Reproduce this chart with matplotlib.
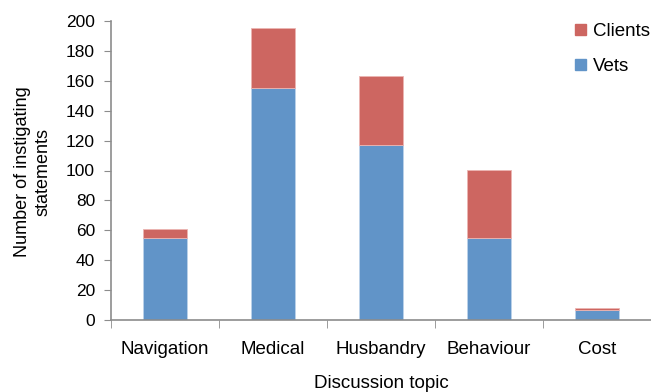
import matplotlib
matplotlib.use("Agg")
import matplotlib.pyplot as plt
import numpy as np
from matplotlib.patches import Patch

categories = ["Navigation", "Medical", "Husbandry", "Behaviour", "Cost"]
vets = [55, 155, 117, 55, 7]
clients = [6, 40, 46, 45, 1]
yticks = list(range(0, 201, 20))

blue = "#6194C8"
red = "#CD6661"
spine = "#8C8C8C"

plt.rcParams['font.family'] = ['Liberation Sans', 'DejaVu Sans']

fig = plt.figure(figsize=(6.51, 3.92), dpi=100)
ax = fig.add_axes([111/651, 72/392, 540/651, 299/392])

x = np.arange(len(categories))
w = 0.41
ax.bar(x, vets, w, color=blue, label="Vets", edgecolor="#BBD2EA", linewidth=0.6)
ax.bar(x, clients, w, bottom=vets, color=red, label="Clients", edgecolor="#EBB5B2", linewidth=0.6)

ax.set_xlim(-0.5, len(categories) - 0.5)
ax.set_ylim(0, 200)
ax.set_yticks(yticks)
ax.set_yticklabels([str(t) for t in yticks], fontsize=12.5)
ax.set_xticks(x)
ax.set_xticklabels(categories, fontsize=13.5)
ax.tick_params(axis='x', length=0, pad=15)
ax.set_xticks(np.arange(-0.5, len(categories), 1.0), minor=True)
ax.tick_params(axis='x', which='minor', length=6, color=spine, direction='out')
ax.tick_params(axis='y', length=5, color=spine, direction='out', pad=6.5)

for s in ['top', 'right']:
    ax.spines[s].set_visible(False)
for s in ['left', 'bottom']:
    ax.spines[s].set_color(spine)
    ax.spines[s].set_linewidth(1.2)

fig.text(33/651, 1 - 172/392, "Number of instigating\nstatements", fontsize=13,
         rotation=90, ha='center', va='center', linespacing=1.3)
fig.text(381/651, 1 - 384/392, "Discussion topic", fontsize=13.5, ha='center', va='center')

handles = [Patch(color=red, label="Clients"), Patch(color=blue, label="Vets")]
ax.legend(handles=handles, loc='upper right', bbox_to_anchor=(650/651, 1 - 23/392),
          bbox_transform=fig.transFigure, frameon=False, borderaxespad=0, borderpad=0,
          fontsize=13.5, handlelength=0.55, handleheight=0.55, labelspacing=0.98,
          handletextpad=0.4)

fig.savefig("out.png", dpi=100)
